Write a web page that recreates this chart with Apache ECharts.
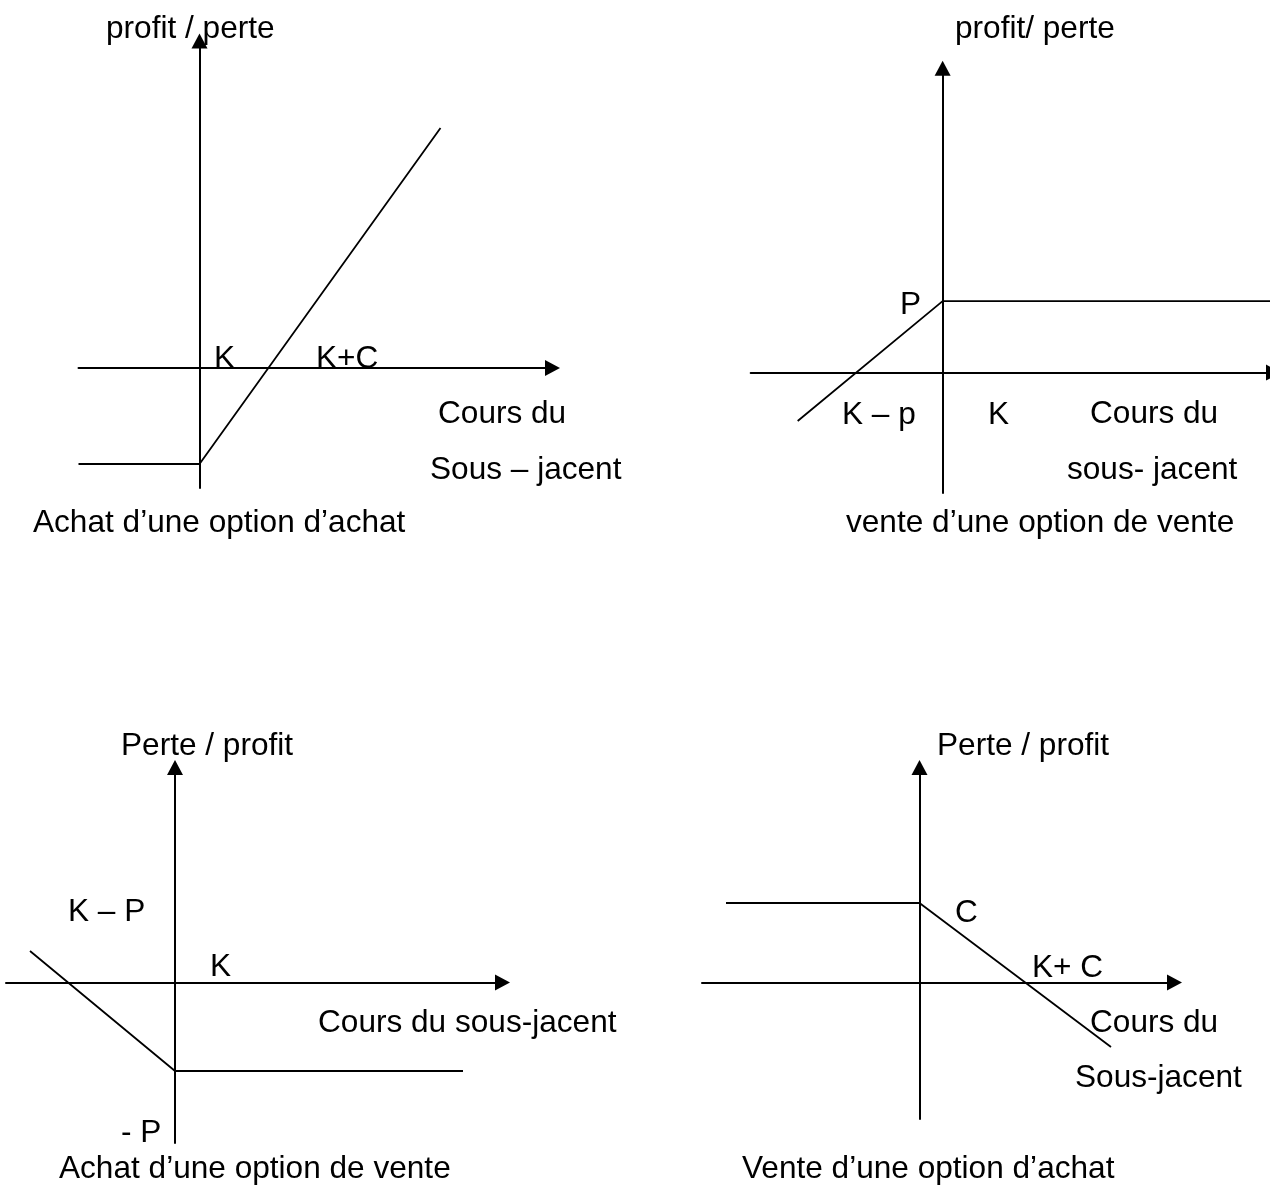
<!DOCTYPE html>
<html>
<head>
<meta charset="utf-8">
<title>Profils de gains des options</title>
<script src="https://cdn.jsdelivr.net/npm/echarts@6/dist/echarts.min.js"></script>
<style>
    html, body { margin: 0; padding: 0; background: #fff; }
    #main { width: 1270px; height: 1185px; }
</style>
</head>
<body>
<div id="main"></div>
<script>
// payoff lines, schematic units, origin at the strike K
var achatCall = [[-12.1, -9.6], [0, -9.6], [24.1, 24.0]];
var ventePut = [[-14.5, -4.85], [0, 7.15], [33.1, 7.15]];
var achatPut = [[-14.5, 3.15], [0, -8.85], [28.8, -8.85]];
var venteCall = [[-19.35, 7.95], [0, 7.95], [19.15, -6.45]];

// axis extents of each panel
var xRanges = [[-12.1, 35.3], [-19.2, 33.1], [-16.9, 32.75], [-21.75, 25.5]];
var yRanges = [[-12.0, 32.7], [-12.05, 30.45], [-16.05, 21.5], [-13.65, 21.5]];

// texts
var axisTitles = ['profit / perte', 'profit/ perte', 'Perte / profit', 'Perte / profit'];
var captions = ['Achat d\u2019une option d\u2019achat', 'vente d\u2019une option de vente',
    'Achat d\u2019une option de vente', 'Vente d\u2019une option d\u2019achat'];
var xTitles = [['Cours du', 'Sous \u2013 jacent'], ['Cours du', 'sous- jacent'],
    ['Cours du sous-jacent'], ['Cours du', 'Sous-jacent']];
var marks = [['K', 'K+C'], ['P', 'K \u2013 p', 'K'], ['K \u2013 P', 'K', '- P'], ['C', 'K+ C']];

var payoffs = [achatCall, ventePut, achatPut, venteCall];

var grids = [
    {left: 78.5, top: 41, width: 474, height: 447},
    {left: 750.7, top: 68.2, width: 522.8, height: 424.8},
    {left: 6, top: 767.5, width: 496.5, height: 375.5},
    {left: 702, top: 767.5, width: 472.5, height: 351.5}
];

var axisLine = {
    show: true,
    onZero: true,
    symbol: ['none', 'triangle'],
    symbolSize: [16, 15],
    lineStyle: {color: '#000', width: 2}
};

function axis(range) {
    return {
        type: 'value',
        min: range[0],
        max: range[1],
        axisLine: axisLine,
        axisTick: {show: false},
        axisLabel: {show: false},
        splitLine: {show: false}
    };
}

// text positions: [x, y] of left edge / vertical middle
var titlePos = [[106, 29], [955, 29], [121, 746], [937, 746]];
var captionPos = [[33, 523], [846, 523], [59, 1169], [742, 1169]];
var xTitlePos = [[[438, 414], [430, 470]], [[1090, 414], [1067, 470]],
    [[318, 1023]], [[1090, 1023], [1075, 1078]]];
var markPos = [[[214, 359], [316, 359]], [[900, 305], [842, 415], [988, 415]],
    [[68, 912], [210, 967], [121, 1133]], [[955, 913], [1032, 968]]];

var font = '31.6px "Liberation Sans", Arial, sans-serif';

function text(str, pos) {
    return {
        type: 'text',
        x: pos[0],
        y: pos[1],
        silent: true,
        style: {text: str, font: font, fill: '#000', align: 'left', verticalAlign: 'middle'}
    };
}

var graphic = [];
for (var i = 0; i < 4; i++) {
    graphic.push(text(axisTitles[i], titlePos[i]));
    graphic.push(text(captions[i], captionPos[i]));
    for (var j = 0; j < xTitles[i].length; j++) {
        graphic.push(text(xTitles[i][j], xTitlePos[i][j]));
    }
    for (var k = 0; k < marks[i].length; k++) {
        graphic.push(text(marks[i][k], markPos[i][k]));
    }
}

var chart = echarts.init(document.getElementById('main'));

chart.setOption({
    backgroundColor: '#fff',
    animation: false,
    grid: grids.map(function (g) {
        return Object.assign({containLabel: false, outerBoundsMode: 'none'}, g);
    }),
    xAxis: xRanges.map(function (r, i) {
        return Object.assign(axis(r), {gridIndex: i});
    }),
    yAxis: yRanges.map(function (r, i) {
        return Object.assign(axis(r), {gridIndex: i});
    }),
    series: payoffs.map(function (d, i) {
        return {
            type: 'line',
            xAxisIndex: i,
            yAxisIndex: i,
            data: d,
            symbol: 'none',
            silent: true,
            lineStyle: {color: '#000', width: 1.8}
        };
    }),
    graphic: graphic
});
</script>
</body>
</html>
